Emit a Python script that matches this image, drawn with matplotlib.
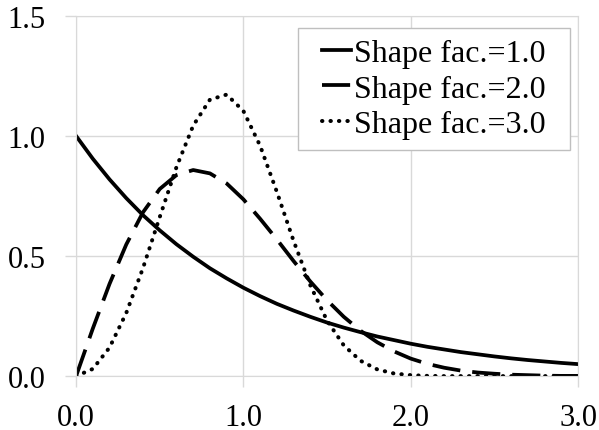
import matplotlib
matplotlib.use('Agg')
import matplotlib.pyplot as plt
from matplotlib.patches import Rectangle

# valores
x = [0.0, 0.1, 0.2, 0.3, 0.4, 0.5, 0.6, 0.7, 0.8, 0.9, 1.0,
     1.1, 1.2, 1.3, 1.4, 1.5, 1.6, 1.7, 1.8, 1.9, 2.0,
     2.1, 2.2, 2.3, 2.4, 2.5, 2.6, 2.7, 2.8, 2.9, 3.0]

forma1 = [1.000, 0.905, 0.819, 0.741, 0.670, 0.607, 0.549, 0.497, 0.449, 0.407, 0.368,
          0.333, 0.301, 0.273, 0.247, 0.223, 0.202, 0.183, 0.165, 0.150, 0.135,
          0.122, 0.111, 0.100, 0.091, 0.082, 0.074, 0.067, 0.061, 0.055, 0.050]

forma2 = [0.000, 0.198, 0.384, 0.548, 0.682, 0.779, 0.837, 0.858, 0.844, 0.802, 0.736,
          0.655, 0.569, 0.479, 0.394, 0.316, 0.247, 0.189, 0.141, 0.103, 0.073,
          0.051, 0.035, 0.023, 0.015, 0.010, 0.006, 0.004, 0.002, 0.001, 0.001]

forma3 = [0.000, 0.030, 0.119, 0.263, 0.450, 0.662, 0.870, 1.043, 1.151, 1.172, 1.104,
          0.959, 0.767, 0.563, 0.378, 0.231, 0.128, 0.064, 0.028, 0.011, 0.004,
          0.001, 0.000, 0.000, 0.000, 0.000, 0.000, 0.000, 0.000, 0.000, 0.000]

rotulos = ['Shape fac.=1.0', 'Shape fac.=2.0', 'Shape fac.=3.0']
xticks = [0.0, 1.0, 2.0, 3.0]
yticks = [0.0, 0.5, 1.0, 1.5]

plt.rcParams['font.family'] = ['Liberation Serif', 'DejaVu Serif']

fig = plt.figure(figsize=(5.99, 4.31), dpi=100)
ax = fig.add_axes([0.127, 0.125, 0.838, 0.836])

cinza = '#d9d9d9'
ax.plot(x, forma1, color='black', lw=2.7, label=rotulos[0])
ax.plot(x, forma2, color='black', lw=2.7, dashes=(7.5, 3.2), label=rotulos[1])
ax.plot(x, forma3, color='black', lw=2.9, linestyle=(0, (0.1, 2.0)),
        dash_capstyle='round', label=rotulos[2])

ax.set_xlim(0, 3)
ax.set_ylim(0, 1.5)
ax.set_xticks(xticks)
ax.set_yticks(yticks)
ax.set_xticklabels(['%.1f' % v for v in xticks])
ax.set_yticklabels(['%.1f' % v for v in yticks])
ax.grid(True, color=cinza, lw=1)
ax.set_axisbelow(True)
for s in ax.spines.values():
    s.set_color(cinza)
ax.tick_params(colors=cinza, labelcolor='black', labelsize=22, length=8, width=1)
ax.tick_params(axis='x', pad=11)
ax.tick_params(axis='y', pad=14)

# caixa da legenda
ax.add_patch(Rectangle((0.442, 0.628), 0.542, 0.339, transform=ax.transAxes,
                       facecolor='white', edgecolor='#bfbfbf', lw=1, zorder=4))
leg = ax.legend(loc='center', bbox_to_anchor=(0.713, 0.797), borderaxespad=0,
                fontsize=23, handlelength=0.9, handletextpad=0.1, labelspacing=0.2,
                frameon=False, borderpad=0)
leg.set_zorder(5)

plt.savefig('out.png', dpi=100)
